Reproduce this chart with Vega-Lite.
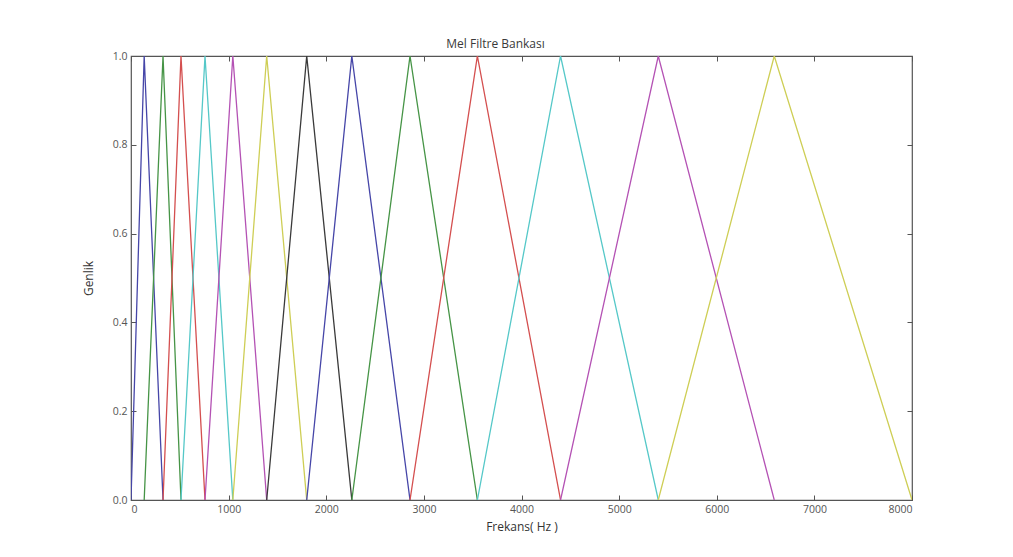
{
  "$schema": "https://vega.github.io/schema/vega-lite/v6.json",
  "width": 781,
  "height": 444,
  "autosize": {"type": "none"},
  "padding": {"left": 131, "top": 56, "right": 101, "bottom": 57},
  "background": "white",
  "title": {
    "text": "Mel Filtre Bankası",
    "anchor": "middle",
    "dx": -26,
    "offset": 0,
    "font": "Open Sans",
    "fontSize": 12,
    "fontWeight": "normal",
    "color": "#3a3a3a"
  },
  "config": {
    "view": {"stroke": "#555555", "strokeWidth": 1.2},
    "axis": {
      "grid": false,
      "domain": false,
      "tickColor": "#555555",
      "tickSize": -5,
      "labelFont": "Open Sans",
      "labelFontSize": 10.5,
      "labelColor": "#555555",
      "titleFont": "Open Sans",
      "titleFontSize": 12,
      "titleFontWeight": "normal",
      "titleColor": "#333333"
    }
  },
  "data": {
    "values": [
      {"filt": 1, "f": 0, "amp": 0}, {"filt": 1, "f": 135, "amp": 1}, {"filt": 1, "f": 328, "amp": 0},
      {"filt": 2, "f": 135, "amp": 0}, {"filt": 2, "f": 328, "amp": 1}, {"filt": 2, "f": 512, "amp": 0},
      {"filt": 3, "f": 328, "amp": 0}, {"filt": 3, "f": 512, "amp": 1}, {"filt": 3, "f": 758, "amp": 0},
      {"filt": 4, "f": 512, "amp": 0}, {"filt": 4, "f": 758, "amp": 1}, {"filt": 4, "f": 1043, "amp": 0},
      {"filt": 5, "f": 758, "amp": 0}, {"filt": 5, "f": 1043, "amp": 1}, {"filt": 5, "f": 1390, "amp": 0},
      {"filt": 6, "f": 1043, "amp": 0}, {"filt": 6, "f": 1390, "amp": 1}, {"filt": 6, "f": 1800, "amp": 0},
      {"filt": 7, "f": 1390, "amp": 0}, {"filt": 7, "f": 1800, "amp": 1}, {"filt": 7, "f": 2262, "amp": 0},
      {"filt": 8, "f": 1800, "amp": 0}, {"filt": 8, "f": 2262, "amp": 1}, {"filt": 8, "f": 2858, "amp": 0},
      {"filt": 9, "f": 2262, "amp": 0}, {"filt": 9, "f": 2858, "amp": 1}, {"filt": 9, "f": 3548, "amp": 0},
      {"filt": 10, "f": 2858, "amp": 0}, {"filt": 10, "f": 3548, "amp": 1}, {"filt": 10, "f": 4400, "amp": 0},
      {"filt": 11, "f": 3548, "amp": 0}, {"filt": 11, "f": 4400, "amp": 1}, {"filt": 11, "f": 5401, "amp": 0},
      {"filt": 12, "f": 4400, "amp": 0}, {"filt": 12, "f": 5401, "amp": 1}, {"filt": 12, "f": 6589, "amp": 0},
      {"filt": 13, "f": 5401, "amp": 0}, {"filt": 13, "f": 6589, "amp": 1}, {"filt": 13, "f": 8000, "amp": 0}
    ]
  },
  "layer": [
    {
      "mark": {"type": "line", "strokeWidth": 1.3, "clip": true},
      "encoding": {
        "x": {
          "field": "f",
          "type": "quantitative",
          "scale": {"domain": [0, 8000], "nice": false},
          "axis": {"values": [0, 1000, 2000, 3000, 4000, 5000, 6000, 7000, 8000], "format": "d", "labelPadding": 9, "title": "Frekans( Hz )", "titlePadding": 7}
        },
        "y": {
          "field": "amp",
          "type": "quantitative",
          "scale": {"domain": [0, 1], "nice": false},
          "axis": {"values": [0, 0.2, 0.4, 0.6, 0.8, 1.0], "format": ".1f", "labelPadding": 9, "title": "Genlik", "titlePadding": 17}
        },
        "order": {"field": "f", "type": "quantitative"},
        "color": {
          "field": "filt",
          "type": "nominal",
          "legend": null,
          "scale": {
            "domain": [1, 2, 3, 4, 5, 6, 7, 8, 9, 10, 11, 12, 13],
            "range": ["#4646a8", "#469446", "#d44f4f", "#55c8c8", "#b452b4", "#cece55", "#3a3a3a", "#4646a8", "#469446", "#d44f4f", "#55c8c8", "#b452b4", "#cece55"]
          }
        }
      }
    },
    {
      "mark": {"type": "rule", "opacity": 0},
      "encoding": {
        "x": {
          "field": "f",
          "type": "quantitative",
          "axis": {"orient": "top", "values": [0, 1000, 2000, 3000, 4000, 5000, 6000, 7000, 8000], "labels": false, "title": null}
        },
        "y": {
          "field": "amp",
          "type": "quantitative",
          "axis": {"orient": "right", "values": [0, 0.2, 0.4, 0.6, 0.8, 1.0], "labels": false, "title": null}
        }
      }
    }
  ],
  "resolve": {"axis": {"x": "independent", "y": "independent"}}
}
